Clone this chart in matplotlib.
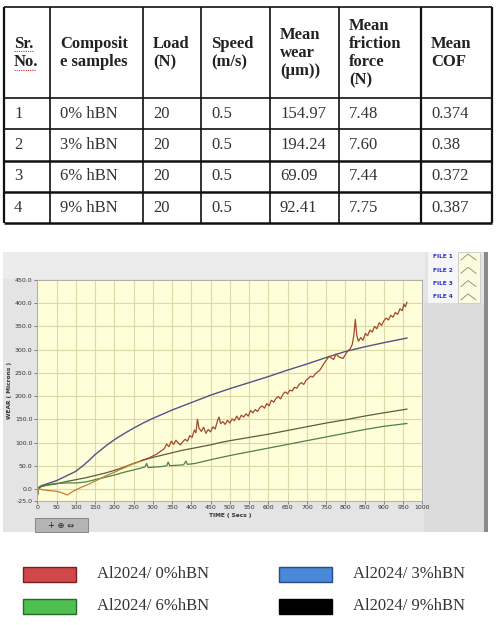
import matplotlib
matplotlib.use("Agg")
import matplotlib.pyplot as plt
from matplotlib.patches import Rectangle

# ---------------- table data ----------------
table_headers = ["Sr.\nNo.", "Composit\ne samples", "Load\n(N)", "Speed\n(m/s)",
                 "Mean\nwear\n(µm))", "Mean\nfriction\nforce\n(N)", "Mean\nCOF"]
sr_no = ["1", "2", "3", "4"]
samples = ["0% hBN", "3% hBN", "6% hBN", "9% hBN"]
loads = ["20", "20", "20", "20"]
speeds = ["0.5", "0.5", "0.5", "0.5"]
mean_wear = ["154.97", "194.24", "69.09", "92.41"]
mean_friction = ["7.48", "7.60", "7.44", "7.75"]
mean_cof = ["0.374", "0.38", "0.372", "0.387"]

# ---------------- chart data ----------------
red_t = [0, 3, 10, 25, 40, 50, 60, 70, 78, 85, 95, 105, 115, 125, 140, 155, 170, 185, 200,
         215, 230, 245, 260, 270, 280, 290, 300, 310, 320, 330, 336, 342, 348, 354, 360, 366,
         372, 378, 384, 390, 396, 402, 408, 412, 416, 420, 426, 432, 438, 444, 450, 456, 462,
         468, 472, 476, 482, 488, 494, 500, 506, 512, 518, 524, 530, 536, 542, 548, 554, 560,
         566, 572, 578, 584, 590, 596, 602, 608, 614, 620, 626, 632, 638, 644, 650, 656, 662,
         668, 674, 680, 686, 692, 698, 704, 710, 716, 722, 728, 734, 740, 746, 752, 758, 764,
         770, 776, 782, 788, 794, 800, 806, 812, 818, 822, 826, 830, 834, 840, 846, 852, 858,
         864, 870, 876, 882, 888, 894, 900, 906, 912, 918, 924, 930, 936, 942, 948, 952, 956, 960]
red_w = [-15, 0, -1, -3, -4, -5, -7, -10, -13, -9, -4, 0, 4, 7, 13, 19, 25, 31, 36,
         42, 47, 53, 57, 61, 64, 67, 71, 75, 81, 87, 97, 91, 103, 96, 105, 99,
         95, 102, 107, 103, 115, 111, 127, 121, 150, 131, 124, 133, 120, 128, 123, 134, 129,
         147, 155, 141, 145, 139, 148, 142, 151, 147, 157, 149, 159, 155, 162, 157, 169, 164,
         171, 167, 175, 179, 174, 184, 179, 191, 187, 195, 199, 194, 204, 209, 205, 213, 211,
         219, 217, 225, 229, 225, 234, 238, 243, 241, 248, 252, 256, 264, 272, 279, 286, 282,
         279, 291, 285, 283, 281, 289, 297, 301, 311, 330, 365, 330, 318, 326, 320, 335, 330,
         342, 338, 350, 345, 358, 352, 362, 368, 364, 374, 370, 380, 376, 388, 384, 398, 392, 402]

blue_t = [0, 3, 10, 25, 50, 75, 100, 120, 135, 150, 165, 180, 200, 225, 250, 275, 300, 325, 350,
          375, 400, 425, 450, 475, 500, 550, 600, 650, 700, 750, 800, 850, 900, 960]
blue_w = [-15, 3, 7, 11, 18, 28, 38, 51, 62, 74, 84, 94, 106, 119, 131, 142, 152, 161, 170,
          178, 186, 194, 202, 209, 216, 229, 242, 256, 269, 283, 296, 306, 315, 325]

green_t = [0, 3, 10, 25, 50, 75, 100, 125, 150, 175, 200, 225, 250, 270, 280, 284, 288, 300,
           320, 336, 340, 344, 360, 380, 386, 390, 410, 450, 500, 550, 600, 650, 700, 750,
           800, 850, 900, 960]
green_w = [-15, 2, 6, 9, 12, 13, 13, 15, 20, 25, 30, 36, 41, 45, 48, 55, 46, 47,
           48, 50, 58, 50, 51, 52, 60, 53, 55, 63, 72, 80, 88, 96, 104, 112,
           120, 128, 135, 141]

black_t = [0, 3, 10, 25, 50, 75, 100, 125, 150, 175, 200, 225, 250, 275, 300, 325, 350, 375,
           400, 425, 450, 475, 500, 550, 600, 650, 700, 750, 800, 850, 900, 960]
black_w = [-12, 0, 5, 8, 11, 16, 20, 24, 29, 34, 40, 47, 55, 62, 68, 73, 78, 83,
           87, 91, 95, 100, 104, 111, 118, 126, 134, 142, 149, 157, 164, 172]

file_labels = ["FILE 1", "FILE 2", "FILE 3", "FILE 4"]
legend_labels = ["Al2024/ 0%hBN", "Al2024/ 3%hBN", "Al2024/ 6%hBN", "Al2024/ 9%hBN"]
legend_colors = ["#d04848", "#4a88d8", "#4fc04f", "#000000"]
legend_edges = ["#7a2020", "#2a4a8a", "#2a6a2a", "#000000"]

x_ticks = list(range(0, 1001, 50))
y_ticks = [-25, 0, 50, 100, 150, 200, 250, 300, 350, 400, 450]

W, H = 497, 625
fig = plt.figure(figsize=(W / 100, H / 100), dpi=100)
fig.patch.set_facecolor("white")

# overlay in pixel coordinates for table / panel / legend
bg = fig.add_axes([0, 0, 1, 1])
bg.set_xlim(0, W)
bg.set_ylim(H, 0)
bg.axis("off")

serif = ["Liberation Serif", "DejaVu Serif"]

# ---------------- table ----------------
col_x = [4, 50, 143, 201, 270, 339, 421, 492]
row_y = [7, 98, 129, 161, 192, 223]
for i, x in enumerate(col_x):
    bg.plot([x, x], [row_y[0], row_y[-1]], color="#111", lw=1.6 if i in (0, 6, 7) else 1.2,
            solid_capstyle="butt")
for j, y in enumerate(row_y):
    bg.plot([col_x[0], col_x[-1]], [y, y], color="#111", lw=1.8 if j in (3, 4, 5) else 1.2,
            solid_capstyle="butt")

for i, h in enumerate(table_headers):
    bg.text(col_x[i] + 10, 53, h, ha="left", va="center", fontsize=12, fontweight="bold",
            family=serif, color="#222", linespacing=1.18)
# red spell-check squiggles under Sr. / No.
bg.plot([14, 33], [51, 51], color="#d03030", lw=0.8, ls=(0, (1, 1)))
bg.plot([14, 36], [70, 70], color="#d03030", lw=0.8, ls=(0, (1, 1)))

columns = [sr_no, samples, loads, speeds, mean_wear, mean_friction, mean_cof]
for r in range(4):
    yc = (row_y[r + 1] + row_y[r + 2]) / 2
    for c, col in enumerate(columns):
        bg.text(col_x[c] + 10, yc, col[r], ha="left", va="center", fontsize=12,
                family=serif, color="#333")

# ---------------- chart panel ----------------
bg.add_patch(Rectangle((3, 252), 482, 280, fc="#e4e4e4", ec="none"))
bg.add_patch(Rectangle((3, 252), 422, 27, fc="#ececec", ec="none"))
bg.add_patch(Rectangle((424, 303), 61, 229, fc="#dcdcdc", ec="none"))
bg.add_patch(Rectangle((484, 252), 4, 280, fc="#8a8a8a", ec="none"))
bg.add_patch(Rectangle((428, 252), 30, 51, fc="#f6f6f6", ec="none"))
bg.add_patch(Rectangle((458, 252), 22, 51, fc="#fbfbe2", ec="#c8c8c8", lw=0.6))
for k, lab in enumerate(file_labels):
    yy = 257 + k * 13.3
    bg.text(433, yy, lab, fontsize=4.2, color="#3030d0", fontweight="bold",
            ha="left", va="center")
    bg.plot([461, 468, 476], [yy + 3, yy - 3, yy + 3], color="#8a8a5a", lw=0.6)

# zoom / pan palette button
bg.add_patch(Rectangle((35, 518), 53, 14, fc="#b4b4b4", ec="#7a7a7a", lw=0.6))
bg.text(61, 525, "+ ⊕ ⇔", ha="center", va="center", fontsize=6, color="#222",
        family=["DejaVu Sans"])

# ---------------- chart axes ----------------
left_px, right_px = 37.3, 422.3
top_px, bot_px = 280.0, 500.6
ax = fig.add_axes([left_px / W, 1 - bot_px / H, (right_px - left_px) / W, (bot_px - top_px) / H])
ax.set_facecolor("#fefed8")
ax.set_xlim(0, 1000)
ax.set_ylim(-25, 450)
ax.set_xticks(x_ticks)
ax.set_xticklabels([str(v) for v in x_ticks])
ax.set_yticks(y_ticks)
ax.set_yticklabels([f"{v:.1f}" for v in y_ticks])
ax.tick_params(labelsize=4.5, colors="#555", length=2, width=0.5, pad=1.5)
for lab in ax.get_xticklabels() + ax.get_yticklabels():
    lab.set_color("#333")
ax.grid(True, color="#dcd9a8", lw=0.8)
ax.set_axisbelow(True)
for s in ax.spines.values():
    s.set_color("#a8a8a8")
    s.set_linewidth(0.6)
ax.set_xlabel("TIME ( Secs )", fontsize=4.2, color="#333", labelpad=1.5, fontweight="bold")
ax.set_ylabel("WEAR ( Microns )", fontsize=4.2, color="#333", labelpad=2, fontweight="bold")

split = 23  # index of t=270 in red_t: early orange-brown segment
ax.plot(blue_t, blue_w, color="#52528c", lw=1.0)
ax.plot(black_t, black_w, color="#5c5c40", lw=0.9)
ax.plot(green_t, green_w, color="#4c8244", lw=0.9)
ax.plot(red_t[:split + 1], red_w[:split + 1], color="#bf8030", lw=0.9)
ax.plot(red_t[split:], red_w[split:], color="#a2482c", lw=0.9)

# ---------------- bottom legend ----------------
pos = [(23, 567), (279, 567), (23, 599), (279, 599)]
for (px, py), lab, fc, ec in zip(pos, legend_labels, legend_colors, legend_edges):
    bg.add_patch(Rectangle((px, py), 53, 15, fc=fc, ec=ec, lw=1.0))
    bg.text(px + 74, py + 7.5, lab, ha="left", va="center", fontsize=12,
            family=serif, color="#333")

fig.savefig("out.png", dpi=100)
